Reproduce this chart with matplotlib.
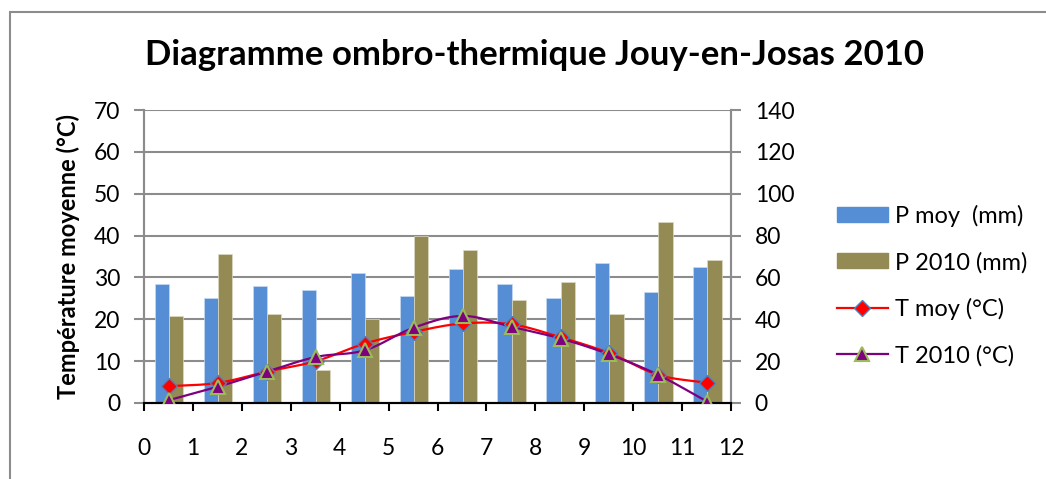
import numpy as np
import matplotlib.pyplot as plt
from matplotlib.patches import Rectangle
from matplotlib.lines import Line2D

plt.rcParams['font.family'] = ['Lato', 'DejaVu Sans']

months = np.arange(12)
p_moy = [57, 50, 56, 54, 62, 51, 64, 57, 50, 67, 53, 65]
p_2010 = [41.5, 71, 42.5, 16, 40, 80, 73, 49, 58, 42.5, 86.5, 68.5]
t_moy = [4.0, 4.8, 7.5, 10.0, 14.2, 17.0, 19.0, 18.8, 15.7, 11.9, 6.7, 4.8]
t_2010 = [0.7, 3.9, 7.5, 11.0, 12.6, 18.0, 20.8, 18.2, 15.4, 11.6, 6.7, 0.3]


def smooth(x, y, n=20):
    # catmull-rom curve through the points, like Excel's smoothed line
    x = np.asarray(x, float)
    y = np.asarray(y, float)
    px = np.concatenate([[2*x[0]-x[1]], x, [2*x[-1]-x[-2]]])
    py = np.concatenate([[2*y[0]-y[1]], y, [2*y[-1]-y[-2]]])
    xs, ys = [], []
    t = np.linspace(0, 1, n)
    for i in range(1, len(px)-2):
        for p, out in ((px, xs), (py, ys)):
            p0, p1, p2, p3 = p[i-1], p[i], p[i+1], p[i+2]
            out.extend(0.5*((2*p1) + (-p0+p2)*t + (2*p0-5*p1+4*p2-p3)*t**2
                            + (-p0+3*p1-3*p2+p3)*t**3))
    return np.array(xs), np.array(ys)


fig = plt.figure(figsize=(10.46, 4.79), dpi=100)
fig.patches.append(Rectangle((10/1046, -0.1), 1.1, 1-12/479+0.1, transform=fig.transFigure,
                             fill=False, edgecolor='#8c8c8c', linewidth=1.5))

ax = fig.add_axes([0.1377, 0.1587, 0.5612, 0.6116])
ax2 = ax.twinx()
ax.set_zorder(ax2.get_zorder() + 1)
ax.patch.set_visible(False)

xc = months + 0.515
w = 0.29
ax2.bar(xc - w/2, p_moy, w, color='#558ED5', edgecolor='#c6d9f1', linewidth=0.5)
ax2.bar(xc + w/2, p_2010, w, color='#948A54', edgecolor='#ddd9c3', linewidth=0.5)
ax2.set_ylim(0, 140)
ax2.set_yticks(range(0, 141, 20))

sx, sy = smooth(xc, t_moy)
ax.plot(sx, sy, color='#FF0000', linewidth=1.6, zorder=3)
sx, sy = smooth(xc, t_2010)
ax.plot(sx, sy, color='#7F007F', linewidth=1.6, zorder=4)
ax.plot(xc, t_moy, linestyle='none', marker='D', markersize=8, markerfacecolor='#FF0000',
        markeredgecolor='#4F81BD', markeredgewidth=1, zorder=5)
ax.plot(xc, t_2010, linestyle='none', marker='^', markersize=10, markerfacecolor='#7F007F',
        markeredgecolor='#9BBB59', markeredgewidth=1.5, zorder=6)

ax.set_xlim(0, 12)
ax.set_ylim(0, 70)
ax.set_xticks(range(13))
ax.set_yticks(range(0, 71, 10))
for y in range(10, 71, 10):
    ax2.axhline(y * 2, color='#8c8c8c', linewidth=1.5, zorder=0)

for a in (ax, ax2):
    a.spines['top'].set_visible(False)
    a.spines['left'].set_color('#8c8c8c')
    a.spines['right'].set_color('#8c8c8c')
    a.spines['left'].set_linewidth(1.5)
    a.spines['right'].set_linewidth(1.5)
    a.spines['bottom'].set_linewidth(1.5)
    a.tick_params(labelsize=16.5, colors='black', length=7)
ax.tick_params(axis='y', color='#8c8c8c', width=1.5, pad=10)
ax2.tick_params(axis='y', color='#8c8c8c', width=1.5, pad=10)
ax.tick_params(axis='x', width=1.5, length=6, pad=19)

ax.set_ylabel('Température moyenne (°C)', fontsize=17, fontweight='bold', labelpad=10)
fig.text(0.511, 0.885, 'Diagramme ombro-thermique Jouy-en-Josas 2010', ha='center', va='center',
         fontsize=25, fontweight='bold')

handles = [
    Rectangle((0, 0), 1, 1, color='#558ED5'),
    Rectangle((0, 0), 1, 1, color='#948A54'),
    Line2D([], [], color='#FF0000', marker='D', markersize=8, markerfacecolor='#FF0000',
           markeredgecolor='#4F81BD', linewidth=1.6),
    Line2D([], [], color='#7F007F', marker='^', markersize=10, markerfacecolor='#7F007F',
           markeredgecolor='#9BBB59', markeredgewidth=1.5, linewidth=1.6),
]
labels = ['P moy  (mm)', 'P 2010 (mm)', 'T moy (°C)', 'T 2010 (°C)']
fig.legend(handles, labels, loc='center left', bbox_to_anchor=(0.8, 0.404), frameon=False,
           fontsize=17, labelspacing=1.05, handlelength=2.15, handleheight=0.6,
           handletextpad=0.3, borderpad=0, borderaxespad=0)

fig.savefig('out.png', dpi=100)
